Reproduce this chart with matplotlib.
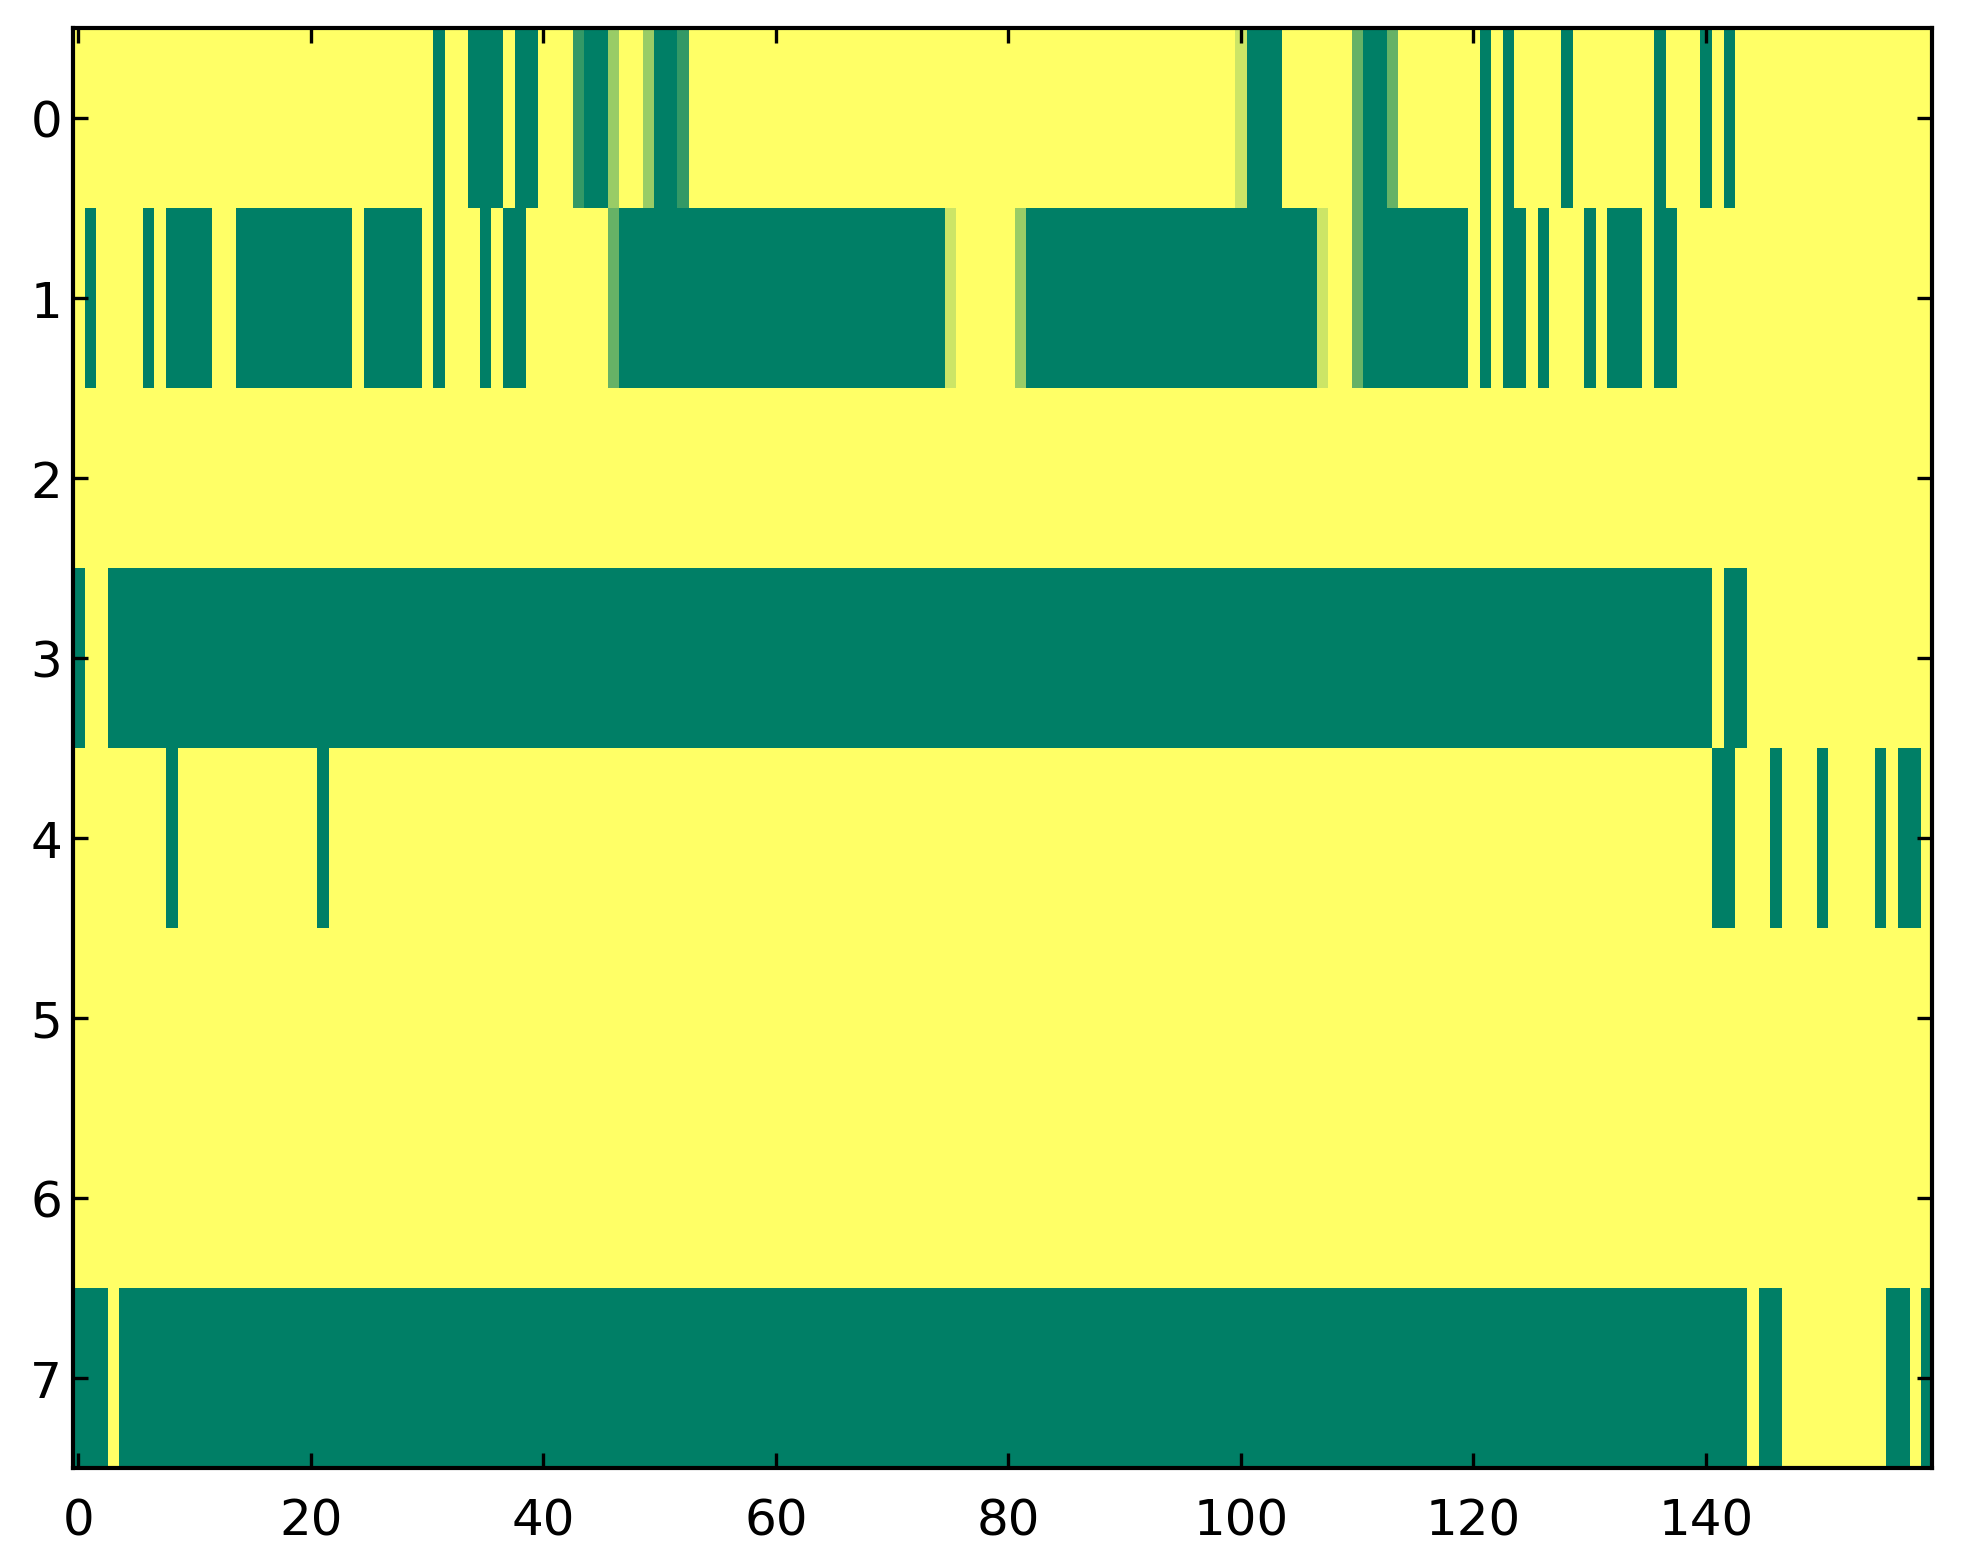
# Mapa de estados (8 filas x 160 columnas) con imshow y colormap summer
import numpy as np
import matplotlib
matplotlib.use('Agg')
import matplotlib.pyplot as plt

n_filas = 8
n_cols = 160

# Tramos que no valen 1 (amarillo): (inicio, fin inclusivo, valor)
fila0 = [(31, 31, 0), (34, 36, 0), (38, 39, 0), (43, 43, 0.2), (44, 45, 0),
         (46, 46, 0.6), (49, 49, 0.6), (50, 51, 0), (52, 52, 0.2),
         (100, 100, 0.8), (101, 103, 0), (110, 110, 0.4), (111, 112, 0),
         (113, 113, 0.4), (121, 121, 0), (123, 123, 0), (128, 128, 0),
         (136, 136, 0), (140, 140, 0), (142, 142, 0)]
fila1 = [(1, 1, 0), (6, 6, 0), (8, 11, 0), (14, 23, 0), (25, 29, 0),
         (31, 31, 0), (35, 35, 0), (37, 38, 0), (46, 46, 0.4), (47, 74, 0),
         (75, 75, 0.8), (81, 81, 0.6), (82, 106, 0), (107, 107, 0.8),
         (110, 110, 0.4), (111, 119, 0), (121, 121, 0), (123, 124, 0),
         (126, 126, 0), (130, 130, 0), (132, 134, 0), (136, 137, 0)]
fila2 = []
fila3 = [(0, 0, 0), (3, 140, 0), (142, 143, 0)]
fila4 = [(8, 8, 0), (21, 21, 0), (141, 142, 0), (146, 146, 0), (150, 150, 0),
         (155, 155, 0), (157, 158, 0)]
fila5 = []
fila6 = []
fila7 = [(0, 2, 0), (4, 143, 0), (145, 146, 0), (156, 157, 0), (159, 159, 0)]

filas = [fila0, fila1, fila2, fila3, fila4, fila5, fila6, fila7]

datos = np.ones((n_filas, n_cols))
for i, tramos in enumerate(filas):
    for a, b, v in tramos:
        datos[i, a:b + 1] = v

# Estilo clasico: ticks hacia adentro en los cuatro lados
plt.rcParams['font.family'] = 'DejaVu Sans'
plt.rcParams['font.size'] = 12
plt.rcParams['xtick.direction'] = 'in'
plt.rcParams['ytick.direction'] = 'in'
plt.rcParams['xtick.top'] = True
plt.rcParams['ytick.right'] = True
plt.rcParams['xtick.major.size'] = 3.6
plt.rcParams['ytick.major.size'] = 3.6
plt.rcParams['xtick.major.pad'] = 7
plt.rcParams['ytick.major.pad'] = 2.5

fig = plt.figure(figsize=(1963 / 300, 1564 / 300), dpi=300)
ax = fig.add_axes([0.0370, 0.0609, 0.9474, 0.9206])
ax.imshow(datos, cmap='summer', vmin=0, vmax=1, aspect='auto',
          interpolation='nearest')
ax.set_xticks(np.arange(0, 160, 20))
ax.set_yticks(np.arange(0, 8, 1))
for s in ax.spines.values():
    s.set_linewidth(1.0)

fig.savefig('out.png', dpi=300)
